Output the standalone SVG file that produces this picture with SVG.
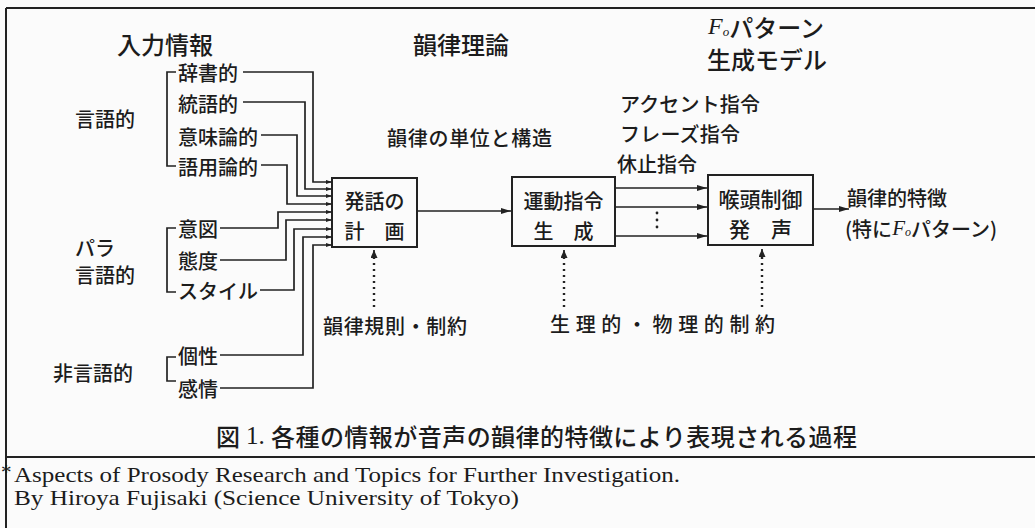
<svg xmlns="http://www.w3.org/2000/svg" width="1035" height="528" viewBox="0 0 1035 528">
<defs>
<style>
.t{font-family:"Noto Sans CJK JP","Noto Sans CJK SC",sans-serif;font-weight:500;fill:#1c1c1c;dominant-baseline:central}
.s20{font-size:20px}
.s21{font-size:21px}
.s24{font-size:24px}
.it{font-family:"Liberation Serif",serif;font-style:italic}
.ln{fill:none;stroke:#222;stroke-width:2}
.cn{fill:none;stroke:#222;stroke-width:1.7}
.box{fill:none;stroke:#222;stroke-width:2}
.dot{fill:none;stroke:#222;stroke-width:2.4;stroke-dasharray:2 4}
.fn{font-family:"Liberation Serif",serif;font-size:21px;fill:#1c1c1c}
</style>
<marker id="ah" viewBox="0 0 10 6" markerWidth="10" markerHeight="6" refX="10" refY="3" orient="auto" markerUnits="userSpaceOnUse"><path d="M0,0 L10,3 L0,6 z" fill="#222"/></marker>
<marker id="as" viewBox="0 0 6 4" markerWidth="6" markerHeight="4" refX="6" refY="2" orient="auto" markerUnits="userSpaceOnUse"><path d="M0,0 L6,2 L0,4 z" fill="#222"/></marker>
<marker id="au" viewBox="0 0 8 7" markerWidth="8" markerHeight="7" refX="8" refY="3.5" orient="auto" markerUnits="userSpaceOnUse"><path d="M0,0 L8,3.5 L0,7 z" fill="#222"/></marker>
</defs>
<rect x="0" y="0" width="1035" height="528" fill="#fbfbfb"/>
<g id="frame">
<path class="ln" d="M6,8 H1035 M6,8 V528 M6,457 H1035"/>
</g>
<g id="headers">
<text class="t s24" x="117" y="43">入力情報</text>
<text class="t s24" x="413" y="43">韻律理論</text>
<text class="t s24" x="708" y="26"><tspan class="it" font-size="24">F</tspan><tspan class="it" font-size="13" dy="5">o</tspan><tspan dy="-5">パターン</tspan></text>
<text class="t s24" x="707" y="58">生成モデル</text>
</g>
<g id="group-gengo">
<text class="t s20" x="75" y="118">言語的</text>
<path class="cn" d="M176,72 H167 V166 H176"/>
<text class="t s20" x="178" y="72">辞書的</text>
<text class="t s20" x="178" y="103">統語的</text>
<text class="t s20" x="178" y="136">意味論的</text>
<text class="t s20" x="178" y="166">語用論的</text>
</g>
<g id="group-para">
<text class="t s20" x="75" y="247">パラ</text>
<text class="t s20" x="75" y="274">言語的</text>
<path class="cn" d="M176,228 H167 V292 H176"/>
<text class="t s20" x="178" y="228">意図</text>
<text class="t s20" x="178" y="260">態度</text>
<text class="t s20" x="178" y="290" textLength="80">スタイル</text>
</g>
<g id="group-higengo">
<text class="t s20" x="133" y="372" text-anchor="end">非言語的</text>
<path class="cn" d="M176,357 H167 V381 H176"/>
<text class="t s20" x="178" y="355">個性</text>
<text class="t s20" x="178" y="388">感情</text>
</g>
<g id="node-plan">
<rect class="box" x="332" y="178" width="85" height="69"/>
<text class="t s20" x="374.5" y="200" text-anchor="middle">発話の</text>
<text class="t s20" x="374.5" y="230" text-anchor="middle">計　画</text>
</g>
<g id="node-motor">
<rect class="box" x="512" y="177" width="103" height="69"/>
<text class="t s20" x="563.5" y="200" text-anchor="middle">運動指令</text>
<text class="t s20" x="563.5" y="230" text-anchor="middle">生　成</text>
</g>
<g id="node-larynx">
<rect class="box" x="708" y="175" width="105" height="70"/>
<text class="t s21" x="760.5" y="198" text-anchor="middle">喉頭制御</text>
<text class="t s21" x="760.5" y="228" text-anchor="middle">発　声</text>
</g>
<g id="labels">
<text class="t s20" x="387" y="137" textLength="165">韻律の単位と構造</text>
<text class="t s20" x="620" y="103" textLength="140">アクセント指令</text>
<text class="t s20" x="620" y="133" textLength="120">フレーズ指令</text>
<text class="t s20" x="617" y="163">休止指令</text>
<text class="t s20" x="323" y="325" textLength="144">韻律規則・制約</text>
<text class="t s20" x="550" y="323" textLength="225">生理的・物理的制約</text>
<text class="t s20" x="847" y="197">韻律的特徴</text>
<text class="t s20" x="845" y="228">(特に<tspan class="it" font-size="21">F</tspan><tspan class="it" font-size="12" dy="4">o</tspan><tspan dy="-4">パターン)</tspan></text>
</g>
<g id="connectors">
<path class="cn" marker-end="url(#as)" d="M243,72 H313 V182 H332"/>
<path class="cn" marker-end="url(#as)" d="M243,102 H305 V189 H332"/>
<path class="cn" marker-end="url(#as)" d="M261,135 H297 V196 H332"/>
<path class="cn" marker-end="url(#as)" d="M261,165 H287 V204 H332"/>
<path class="cn" marker-end="url(#as)" d="M220,228 H278 V212 H332"/>
<path class="cn" marker-end="url(#as)" d="M220,260 H286 V220 H332"/>
<path class="cn" marker-end="url(#as)" d="M260,290 H294 V229 H332"/>
<path class="cn" marker-end="url(#as)" d="M220,355 H303 V237 H332"/>
<path class="cn" marker-end="url(#as)" d="M220,388 H313 V245 H332"/>
<path class="cn" marker-end="url(#ah)" d="M417,211 H511"/>
<path class="cn" marker-end="url(#ah)" d="M615,188 H707"/>
<path class="cn" marker-end="url(#ah)" d="M615,207 H707"/>
<path class="cn" marker-end="url(#ah)" d="M615,236 H707"/>
<path class="cn" marker-end="url(#ah)" d="M813,209 H849"/>
<circle cx="657" cy="213" r="1.4" fill="#222"/>
<circle cx="657" cy="220" r="1.4" fill="#222"/>
<circle cx="657" cy="227" r="1.4" fill="#222"/>
<path class="dot" d="M374,307 V257"/>
<path class="cn" marker-end="url(#au)" d="M374,258 V250"/>
<path class="dot" d="M564,307 V257"/>
<path class="cn" marker-end="url(#au)" d="M564,258 V250"/>
<path class="dot" d="M762,307 V256"/>
<path class="cn" marker-end="url(#au)" d="M762,257 V249"/>
</g>
<g id="caption">
<text class="t s24" x="216" y="435">図</text>
<text x="246" y="444" font-family="Liberation Serif, serif" font-size="25" fill="#1c1c1c">1.</text>
<text class="t s24" x="271" y="435" textLength="586">各種の情報が音声の韻律的特徴により表現される過程</text>
</g>
<g id="footnote">
<text class="fn" x="1" y="479">*</text>
<text class="fn" x="14" y="482" textLength="666" lengthAdjust="spacingAndGlyphs">Aspects of Prosody Research and Topics for Further Investigation.</text>
<text class="fn" x="14" y="505" textLength="505" lengthAdjust="spacingAndGlyphs">By Hiroya Fujisaki (Science University of Tokyo)</text>
</g>
</svg>
